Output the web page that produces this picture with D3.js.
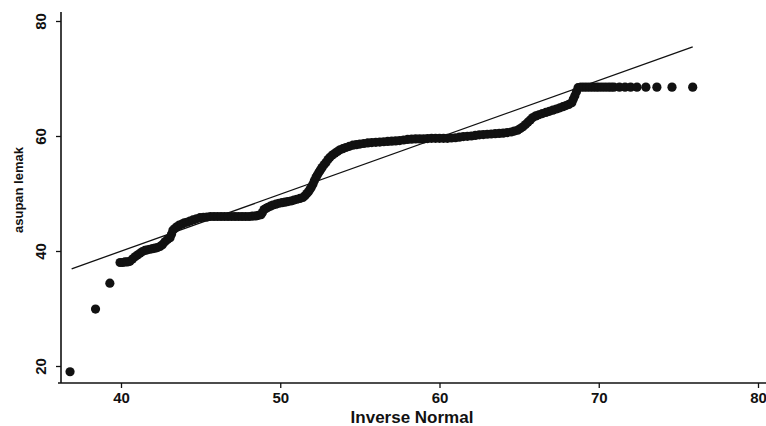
<!DOCTYPE html>
<html>
<head>
<meta charset="utf-8">
<script src="https://cdn.jsdelivr.net/npm/d3@7"></script>
<style>
  body { margin: 0; background: #fff; }
  svg { display: block; }
  text { font-family: "Liberation Sans", Arial, sans-serif; fill: #111; }
</style>
</head>
<body>
<div id="chart"></div>
<script>
// inverse normal quantiles (x) against sorted asupan lemak (y)
const invNormal = [
  36.8, 38.4, 39.3, 39.94, 40.1, 40.25, 40.4, 40.56, 40.72, 40.88,
  41.03, 41.19, 41.35, 41.5, 41.66, 41.82, 41.98, 42.13, 42.29, 42.45,
  42.6, 42.76, 42.92, 43.08, 43.17, 43.26, 43.38, 43.5, 43.66, 43.83,
  43.98, 44.14, 44.33, 44.52, 44.74, 44.96, 45.18, 45.4, 45.62, 45.84,
  46.06, 46.28, 46.5, 46.72, 46.94, 47.16, 47.38, 47.6, 47.82, 48.04,
  48.25, 48.47, 48.63, 48.79, 48.88, 48.98, 49.1, 49.23, 49.38, 49.54,
  49.73, 49.92, 50.11, 50.3, 50.48, 50.67, 50.86, 51.05, 51.24, 51.42,
  51.55, 51.67, 51.77, 51.86, 51.95, 52.05, 52.14, 52.24, 52.33, 52.43,
  52.52, 52.62, 52.75, 52.87, 53.0, 53.12, 53.27, 53.43, 53.59, 53.75,
  53.93, 54.12, 54.34, 54.56, 54.78, 55.0, 55.25, 55.5, 55.75, 56.0,
  56.25, 56.5, 56.75, 57.0, 57.25, 57.5, 57.75, 58.0, 58.25, 58.5,
  58.75, 59.0, 59.25, 59.5, 59.75, 60.0, 60.25, 60.5, 60.75, 61.0,
  61.25, 61.5, 61.75, 62.0, 62.25, 62.5, 62.75, 63.0, 63.25, 63.5,
  63.75, 64.0, 64.25, 64.5, 64.7, 64.9, 65.07, 65.24, 65.4, 65.55,
  65.7, 65.86, 66.05, 66.24, 66.46, 66.68, 66.9, 67.12, 67.34, 67.56,
  67.75, 67.94, 68.12, 68.31, 68.4, 68.5, 68.6, 68.7, 68.88, 69.07,
  69.26, 69.45, 69.64, 69.83, 70.0, 70.2, 70.4, 70.6, 70.78, 70.95,
  71.3, 71.65, 72.0, 72.4, 72.96, 73.65, 74.6, 75.9
]
const asupanLemak = [
  19.0, 29.9, 34.4, 38.0, 38.0, 38.1, 38.1, 38.2, 38.6, 39.0,
  39.3, 39.6, 39.9, 40.1, 40.2, 40.3, 40.4, 40.5, 40.6, 40.8,
  41.1, 41.6, 42.0, 42.3, 42.9, 43.6, 43.9, 44.2, 44.5, 44.7,
  44.9, 45.0, 45.2, 45.4, 45.6, 45.8, 45.85, 45.9, 46.0, 46.0,
  46.0, 46.0, 46.0, 46.0, 46.0, 46.0, 46.0, 46.0, 46.0, 46.0,
  46.05, 46.1, 46.2, 46.3, 46.7, 47.2, 47.4, 47.6, 47.8, 48.0,
  48.15, 48.3, 48.4, 48.5, 48.6, 48.7, 48.85, 49.0, 49.15, 49.3,
  49.6, 50.0, 50.3, 50.7, 51.1, 51.6, 52.2, 52.8, 53.2, 53.7,
  54.1, 54.5, 55.0, 55.4, 55.9, 56.3, 56.7, 57.0, 57.3, 57.6,
  57.8, 58.0, 58.2, 58.4, 58.5, 58.6, 58.7, 58.8, 58.85, 58.9,
  58.95, 59.0, 59.05, 59.1, 59.15, 59.2, 59.3, 59.4, 59.45, 59.5,
  59.5, 59.5, 59.55, 59.6, 59.6, 59.6, 59.6, 59.6, 59.65, 59.7,
  59.8, 59.9, 59.95, 60.0, 60.1, 60.2, 60.25, 60.3, 60.35, 60.4,
  60.45, 60.5, 60.6, 60.7, 60.85, 61.0, 61.3, 61.6, 62.0, 62.4,
  62.8, 63.2, 63.5, 63.7, 63.9, 64.1, 64.3, 64.5, 64.7, 64.9,
  65.1, 65.3, 65.5, 65.8, 66.4, 67.0, 67.7, 68.4, 68.5, 68.5,
  68.5, 68.5, 68.5, 68.5, 68.5, 68.5, 68.5, 68.5, 68.5, 68.5,
  68.5, 68.5, 68.5, 68.5, 68.5, 68.5, 68.5, 68.5
]
// reference line (y = x) end points
const refX = [36.9, 75.9]
const refY = [36.9, 75.5]

const xTicks = [40, 50, 60, 70, 80]
const yTicks = [20, 40, 60, 80]

const width = 766, height = 426

const svg = d3.select("#chart").append("svg")
  .attr("width", width)
  .attr("height", height)

const x = d3.scaleLinear().domain([40, 80]).range([121, 758])
const y = d3.scaleLinear().domain([20, 80]).range([366, 21])

const axisY = 61, axisX = 383

// axis lines
svg.append("line")
  .attr("x1", axisY).attr("x2", axisY)
  .attr("y1", 12).attr("y2", axisX)
  .attr("stroke", "#111").attr("stroke-width", 1.6)
svg.append("line")
  .attr("x1", 58).attr("x2", width)
  .attr("y1", axisX).attr("y2", axisX)
  .attr("stroke", "#111").attr("stroke-width", 1.6)

// x axis
const gx = svg.append("g")
  .attr("transform", "translate(0," + axisX + ")")
  .call(d3.axisBottom(x).tickValues(xTicks).tickSize(5).tickPadding(4))
gx.select(".domain").remove()
gx.selectAll(".tick line").attr("stroke", "#111").attr("stroke-width", 1.3)
gx.selectAll(".tick text")
  .style("font-size", "15px").style("font-weight", "bold")
  .attr("fill", "#111")

// y axis, labels turned sideways
const gy = svg.append("g")
  .attr("transform", "translate(" + axisY + ",0)")
  .call(d3.axisLeft(y).tickValues(yTicks).tickSize(5))
gy.select(".domain").remove()
gy.selectAll(".tick line").attr("stroke", "#111").attr("stroke-width", 1.3)
gy.selectAll(".tick text")
  .attr("transform", "rotate(-90)")
  .attr("x", 0).attr("y", -15).attr("dy", 0)
  .attr("text-anchor", "middle")
  .style("font-size", "15px").style("font-weight", "bold")
  .attr("fill", "#111")

// axis titles
svg.append("text")
  .attr("x", 412).attr("y", 423)
  .attr("text-anchor", "middle")
  .style("font-size", "17px").style("font-weight", "bold")
  .text("Inverse Normal")

svg.append("text")
  .attr("transform", "translate(23,190) rotate(-90)")
  .attr("text-anchor", "middle")
  .style("font-size", "13px").style("font-weight", "bold")
  .text("asupan lemak")

// reference line
svg.append("line")
  .attr("x1", x(refX[0])).attr("y1", y(refY[0]))
  .attr("x2", x(refX[1])).attr("y2", y(refY[1]))
  .attr("stroke", "#111").attr("stroke-width", 1.3)

// points
const pts = invNormal.map((v, i) => ({ q: v, val: asupanLemak[i] }))
svg.append("g")
  .selectAll("circle")
  .data(pts)
  .enter().append("circle")
    .attr("cx", d => x(d.q))
    .attr("cy", d => y(d.val))
    .attr("r", 4.6)
    .attr("fill", "#111")
</script>
</body>
</html>
